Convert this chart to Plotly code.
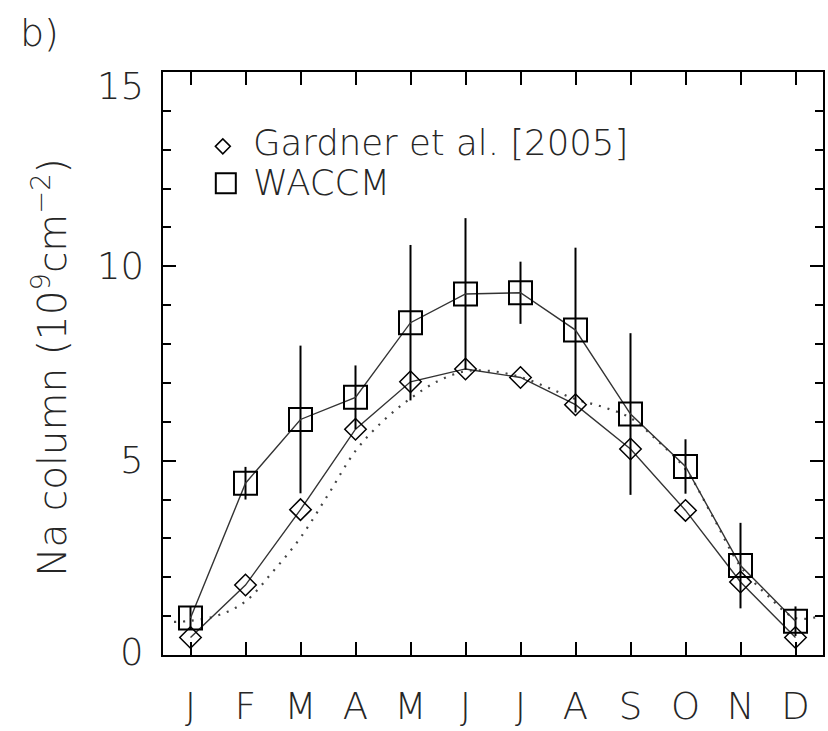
import plotly.graph_objects as go

# Monthly sodium column abundance (10^9 cm^-2)
months = [1, 2, 3, 4, 5, 6, 7, 8, 9, 10, 11, 12]
month_labels = ["J", "F", "M", "A", "M", "J", "J", "A", "S", "O", "N", "D"]

gardner = [0.45, 1.80, 3.74, 5.81, 7.03, 7.36, 7.14, 6.44, 5.30, 3.72, 1.88, 0.45]
waccm = [0.95, 4.42, 6.06, 6.63, 8.55, 9.29, 9.32, 8.36, 6.20, 4.85, 2.30, 0.87]
waccm_err = [0.30, 0.42, 1.90, 0.82, 2.00, 1.95, 0.80, 2.12, 2.08, 0.70, 1.10, 0.38]

# Smooth climatological curve (dotted)
clim_x = [0.7, 1.0, 1.5, 2.0, 2.5, 3.0, 3.5, 4.0, 4.5, 5.0, 5.5, 6.0, 6.5,
          7.0, 7.5, 8.0, 8.5, 9.0, 9.5, 10.0, 10.5, 11.0, 11.5, 12.0, 12.45]
clim_y = [0.85, 0.88, 1.02, 1.38, 2.15, 3.02, 4.12, 5.25, 6.02, 6.60, 7.05, 7.30, 7.30,
          7.15, 6.88, 6.58, 6.38, 6.10, 5.50, 4.78, 3.55, 2.28, 1.52, 0.95, 1.00]

ytick_vals = [0, 5, 10, 15]
ytick_text = ["0", "5", "10", "15"]

legend_names = ["Gardner et al. [2005]", "WACCM"]
panel_label = "b)"
y_title = "Na column (10<sup>9</sup>cm<sup>\u22122</sup>)"

FONT = "DejaVu Sans"
WEIGHT = 200
TXT = "#262626"

W, H = 828, 731
L, R, T, B = 163, 3, 72, 67
PW, PH = W - L - R, H - T - B


def px(x):
    return (x - L) / PW


def py(y):
    return (H - B - y) / PH


def font(size):
    return dict(family=FONT, size=size, color=TXT, weight=WEIGHT)


fig = go.Figure()

fig.add_trace(go.Scatter(
    x=clim_x, y=clim_y, mode="lines", line_shape="spline",
    line=dict(color="#444444", width=2.2, dash="2px,7px"),
    showlegend=False, hoverinfo="skip"))

fig.add_trace(go.Scatter(
    x=months, y=gardner, mode="lines+markers",
    line=dict(color="#333333", width=1.4),
    marker=dict(symbol="diamond-open", size=16.5, color="black",
                line=dict(color="black", width=1.5)),
    showlegend=False))

fig.add_trace(go.Scatter(
    x=months, y=waccm, mode="lines+markers",
    line=dict(color="#333333", width=1.4),
    marker=dict(symbol="square-open", size=23, color="black",
                line=dict(color="black", width=2)),
    error_y=dict(type="data", array=waccm_err, symmetric=True,
                 width=0, thickness=2, color="black"),
    showlegend=False))

axis_common = dict(showline=True, linecolor="black", linewidth=2, mirror="ticks",
                   ticks="inside", ticklen=13, tickwidth=2, tickcolor="black",
                   showgrid=False, zeroline=False)

fig.update_xaxes(range=[0.5, 12.5], tickvals=months, ticktext=month_labels,
                 tickfont=font(37), ticklabelstandoff=18, **axis_common)
fig.update_yaxes(range=[0, 15], tickvals=ytick_vals, showticklabels=False,
                 minor=dict(dtick=1, ticks="inside", ticklen=8, tickwidth=2,
                            tickcolor="black"),
                 **axis_common)

ann = []
# y tick labels, kept inside the axis range at both ends
for v, t in zip(ytick_vals, ytick_text):
    if v == min(ytick_vals):
        shift = 3
    elif v == max(ytick_vals):
        shift = -14
    else:
        shift = 0
    ann.append(dict(x=px(146), y=v, xref="paper", yref="y", text=t,
                    xanchor="right", yanchor="middle", yshift=shift,
                    showarrow=False, font=font(37)))

ann.append(dict(x=px(50), y=py(372), xref="paper", yref="paper", text=y_title,
                textangle=-90, xanchor="center", yanchor="middle", showarrow=False,
                font=font(39)))

ann.append(dict(x=px(39), y=py(32), xref="paper", yref="paper", text=panel_label,
                xanchor="center", yanchor="middle", showarrow=False,
                font=font(38)))

# legend entries
for name, yc in zip(legend_names, [143.5, 184.5]):
    ann.append(dict(x=px(251), y=py(yc), xref="paper", yref="paper", text=name,
                    xanchor="left", yanchor="middle", showarrow=False,
                    font=font(35.5)))

shapes = [
    # diamond key
    dict(type="path", xref="paper", yref="paper", xsizemode="pixel", ysizemode="pixel",
         xanchor=px(223), yanchor=py(147.5),
         path="M -7.5 0 L 0 7.5 L 7.5 0 L 0 -7.5 Z",
         line=dict(color="black", width=1.5)),
    # square key
    dict(type="rect", xref="paper", yref="paper", xsizemode="pixel", ysizemode="pixel",
         xanchor=px(226), yanchor=py(185), x0=-10, x1=10, y0=-10, y1=10,
         line=dict(color="black", width=2)),
]

fig.update_layout(width=W, height=H, margin=dict(l=L, r=R, t=T, b=B),
                  paper_bgcolor="white", plot_bgcolor="white",
                  annotations=ann, shapes=shapes, showlegend=False)

fig.write_html("out.html")
